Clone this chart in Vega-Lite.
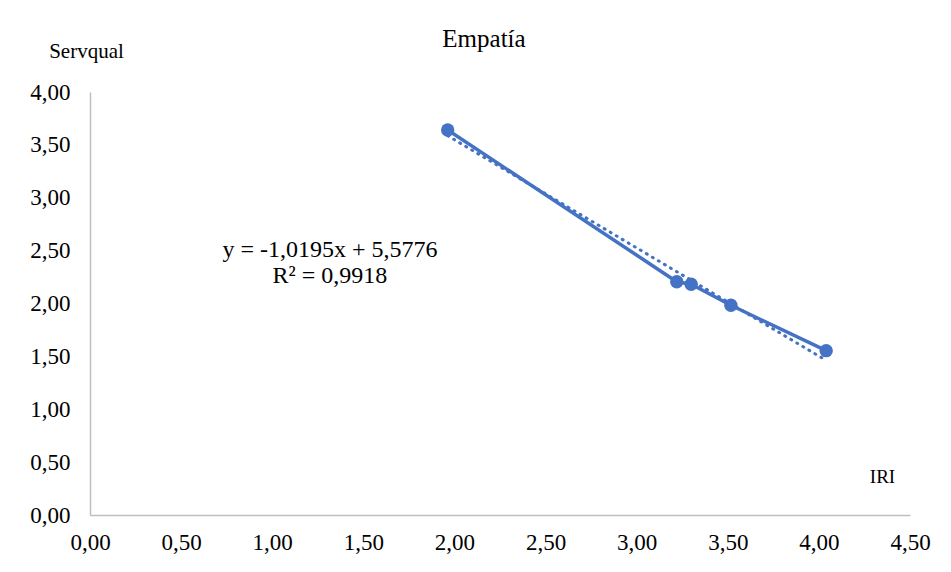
{
  "$schema": "https://vega.github.io/schema/vega-lite/v6.json",
  "autosize": {"type": "none"},
  "width": 820,
  "height": 423,
  "padding": {"left": 90, "top": 92, "right": 41, "bottom": 57},
  "background": "white",
  "title": {
    "text": "Empatía",
    "frame": "group",
    "anchor": "middle",
    "dx": -16,
    "offset": -12,
    "font": "Times New Roman, Liberation Serif, serif",
    "fontSize": 25,
    "fontWeight": "normal",
    "color": "#000000"
  },
  "data": {
    "values": [
      {"IRI": 1.963, "Servqual": 3.641},
      {"IRI": 3.22, "Servqual": 2.206},
      {"IRI": 3.299, "Servqual": 2.182},
      {"IRI": 3.517, "Servqual": 1.983},
      {"IRI": 4.04, "Servqual": 1.554}
    ]
  },
  "config": {
    "view": {"stroke": null},
    "axis": {
      "grid": false,
      "ticks": false,
      "domainColor": "#bfbfbf",
      "domainWidth": 1.5,
      "labelFont": "Times New Roman, Liberation Serif, serif",
      "labelFontSize": 23,
      "labelColor": "#000000",
      "titleFont": "Times New Roman, Liberation Serif, serif",
      "titleFontWeight": "normal",
      "titleColor": "#000000"
    }
  },
  "layer": [
    {
      "transform": [{"regression": "Servqual", "on": "IRI", "method": "linear"}],
      "mark": {"type": "line", "color": "#4472C4", "strokeWidth": 3, "strokeDash": [1, 6], "strokeCap": "round"},
      "encoding": {
        "x": {"field": "IRI", "type": "quantitative"},
        "y": {"field": "Servqual", "type": "quantitative"}
      }
    },
    {
      "mark": {"type": "line", "color": "#4472C4", "strokeWidth": 3.5},
      "encoding": {
        "x": {
          "field": "IRI",
          "type": "quantitative",
          "scale": {"domain": [0, 4.5], "nice": false, "zero": true},
          "axis": {
            "values": [0, 0.5, 1, 1.5, 2, 2.5, 3, 3.5, 4, 4.5],
            "labelExpr": "replace(format(datum.value, '.2f'), '.', ',')",
            "labelPadding": 16,
            "labelFlush": false,
            "title": "IRI",
            "titleFontSize": 19,
            "titleAngle": 0,
            "titleX": 792,
            "titleY": -39,
            "titleAlign": "center",
            "titleBaseline": "middle"
          }
        },
        "y": {
          "field": "Servqual",
          "type": "quantitative",
          "scale": {"domain": [0, 4], "nice": false, "zero": true},
          "axis": {
            "values": [0, 0.5, 1, 1.5, 2, 2.5, 3, 3.5, 4],
            "labelExpr": "replace(format(datum.value, '.2f'), '.', ',')",
            "labelPadding": 20,
            "labelFlush": false,
            "title": "Servqual",
            "titleFontSize": 21,
            "titleAngle": 0,
            "titleX": -4,
            "titleY": -41,
            "titleAlign": "center",
            "titleBaseline": "middle"
          }
        }
      }
    },
    {
      "mark": {"type": "circle", "color": "#4472C4", "opacity": 1, "size": 180},
      "encoding": {
        "x": {"field": "IRI", "type": "quantitative"},
        "y": {"field": "Servqual", "type": "quantitative"}
      }
    },
    {
      "data": {"values": [{"label": "y = -1,0195x + 5,5776"}]},
      "mark": {
        "type": "text",
        "font": "Times New Roman, Liberation Serif, serif",
        "fontSize": 24,
        "align": "center",
        "baseline": "alphabetic",
        "color": "#000000"
      },
      "encoding": {
        "text": {"field": "label"},
        "x": {"datum": 1.317},
        "y": {"datum": 2.44}
      }
    },
    {
      "data": {"values": [{"label": "R² = 0,9918"}]},
      "mark": {
        "type": "text",
        "font": "Times New Roman, Liberation Serif, serif",
        "fontSize": 24,
        "align": "center",
        "baseline": "alphabetic",
        "color": "#000000"
      },
      "encoding": {
        "text": {"field": "label"},
        "x": {"datum": 1.317},
        "y": {"datum": 2.194}
      }
    }
  ]
}
